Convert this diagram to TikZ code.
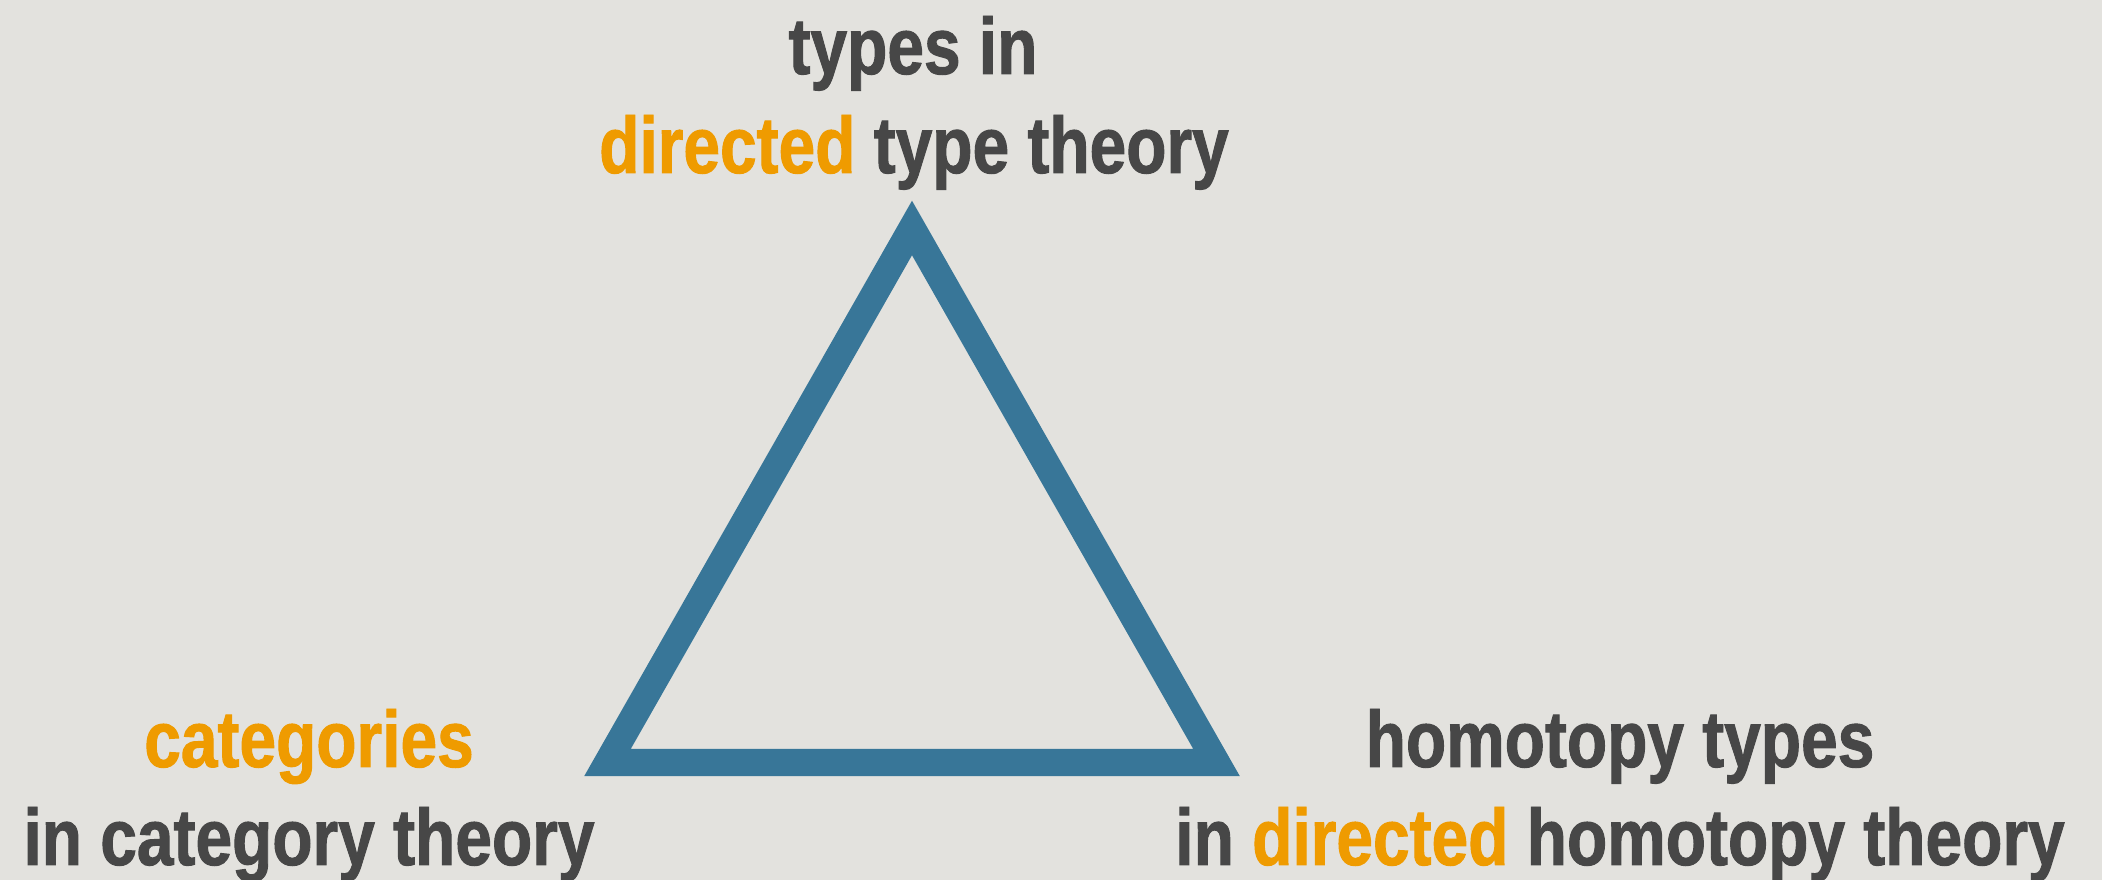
\documentclass[tikz,border=0pt]{standalone}
\usepackage{fontspec}
\newfontfamily\condbold{Liberation Sans Bold}[FakeStretch=0.823, FakeBold=1.2]
\definecolor{bgcol}{HTML}{E3E2DE}
\definecolor{txtgray}{HTML}{474747}
\definecolor{accent}{HTML}{EF9B00}
\definecolor{triblue}{HTML}{387698}
\tikzset{
  lbl/.style={anchor=base, inner sep=0pt, text=txtgray,
    font=\condbold\fontsize{22.76}{28}\selectfont},
  tri/.style={draw=triblue, line width=0.27cm, line join=miter, miter limit=4}
}
\newcommand{\hl}[1]{\textcolor{accent}{#1}}
\begin{document}
\begin{tikzpicture}[x=0.01cm, y=-0.01cm]
  \fill[bgcol] (0,0) rectangle (2102,880);
  \useasboundingbox (0,0) rectangle (2102,880);
  % triangle
  \coordinate (apex) at (912,228);
  \coordinate (bl) at (607.5,762.5);
  \coordinate (br) at (1216.5,762.5);
  \draw[tri] (apex) -- (bl) -- (br) -- cycle;
  % top label
  \node[lbl] (top1) at (913,74) {types in};
  \node[lbl] (top2) at (914,173) {\hl{directed} type theory};
  % left label
  \node[lbl] (left1) at (309,767) {\hl{categories}};
  \node[lbl] (left2) at (309,865) {in category theory};
  % right label
  \node[lbl] (right1) at (1620,767) {homotopy types};
  \node[lbl] (right2) at (1620,865) {in \hl{directed} homotopy theory};
\end{tikzpicture}
\end{document}
